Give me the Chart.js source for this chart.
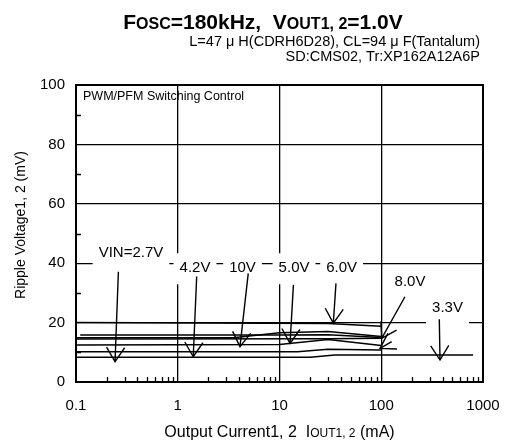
<!DOCTYPE html>
<html><head><meta charset="utf-8">
<script src="https://cdn.jsdelivr.net/npm/chart.js@4"></script>
<style>html,body{margin:0;padding:0;background:#fff}#wrap{width:507px;height:445px;position:relative}</style>
</head><body><div id="wrap"><canvas id="c"></canvas></div>
<script>
// ---- data (output current mA, ripple mV) ----
const xTickValues = [0.1, 1, 10, 100, 1000];
const yTickValues = [0, 20, 40, 60, 80, 100];
const minorXTicks = [0.2,0.3,0.4,0.5,0.6,0.7,0.8,0.9,2,3,4,5,6,7,8,9,20,30,40,50,60,70,80,90,200,300,400,500,600,700,800,900];
const minorYTicks = [10, 30, 50, 70, 90];

const seriesNames = ['VIN=2.7V', '3.3V', '4.2V', '5.0V', '6.0V', '8.0V', '10V'];
const v27X = [0.1, 15, 30, 100];        const v27Y = [10.2, 10.2, 11.0, 10.8];
const v33X = [0.1, 20, 35, 800];        const v33Y = [8.3, 8.3, 9.1, 9.1];
const v42X = [0.11, 10, 30, 100];       const v42Y = [15.8, 15.8, 15.9, 15.0];
const v50X = [0.1, 10, 30, 100];        const v50Y = [12.5, 12.6, 14.3, 12.3];
const v60X = [0.1, 30, 100];            const v60Y = [20.0, 19.7, 18.8];
const v80X = [0.1, 30, 100];            const v80Y = [14.5, 14.6, 14.7];
const v10X = [0.1, 3.5, 10, 30, 100];   const v10Y = [14.9, 14.9, 16.6, 17.0, 15.3];
const seriesX = [v27X, v33X, v42X, v50X, v60X, v80X, v10X];
const seriesY = [v27Y, v33Y, v42Y, v50Y, v60Y, v80Y, v10Y];

// annotation labels with arrows (data units)
const noteText  = ['VIN=2.7V', '4.2V', '10V', '5.0V', '6.0V', '8.0V', '3.3V'];
const noteX     = [0.347, 1.477, 4.33, 13.9, 40.8, 191.7, 447.6];
const noteY     = [43.4, 38.3, 38.3, 38.3, 38.3, 33.8, 24.8];
const arrowFromX= [0.261, 1.535, 4.93, 13.7, 35.9, 171, 372, 126.7];
const arrowFromY= [37.1, 35.5, 36.6, 32.7, 33.2, 28.7, 21.1, 13.6];
const arrowToX  = [0.242, 1.42, 4.09, 12.7, 33.8, 101, 378, 97.3];
const arrowToY  = [6.8, 8.5, 11.9, 13.0, 19.8, 14.7, 7.4, 11.3];

const FF = '"Liberation Sans", Arial, sans-serif';

function drawRich(ctx, pieces, cx, by) {
  let w = 0;
  pieces.forEach(p => { ctx.font = p.f + ' ' + FF; w += ctx.measureText(p.t).width; });
  let x = cx - w / 2;
  ctx.textAlign = 'left'; ctx.textBaseline = 'alphabetic';
  pieces.forEach(p => { ctx.font = p.f + ' ' + FF; ctx.fillText(p.t, x, by); x += ctx.measureText(p.t).width; });
}

const notes = {
  id: 'notes',
  beforeDatasetsDraw(chart) {
    const ctx = chart.ctx, xs = chart.scales.x, ys = chart.scales.y;
    ctx.save();
    ctx.font = '15px ' + FF;
    ctx.fillStyle = '#fff';
    noteText.forEach((t, i) => {
      const w = ctx.measureText(t).width;
      const cx = xs.getPixelForValue(noteX[i]), cy = ys.getPixelForValue(noteY[i]);
      ctx.fillRect(cx - w / 2 - 6, cy - 15, w + 12, 31);
    });
    ctx.restore();
  },
  afterDatasetsDraw(chart) {
    const ctx = chart.ctx, xs = chart.scales.x, ys = chart.scales.y, a = chart.chartArea;
    ctx.save();
    ctx.strokeStyle = '#000'; ctx.fillStyle = '#000';
    // minor ticks
    ctx.lineWidth = 1.3;
    ctx.beginPath();
    minorXTicks.forEach(v => { const px = Math.round(xs.getPixelForValue(v)) + 0.5; ctx.moveTo(px, a.bottom); ctx.lineTo(px, a.bottom - 5); });
    minorYTicks.forEach(v => { const py = Math.round(ys.getPixelForValue(v)) + 0.5; ctx.moveTo(a.left, py); ctx.lineTo(a.left + 5, py); });
    ctx.stroke();
    // frame
    ctx.lineWidth = 2;
    ctx.strokeRect(a.left, a.top, a.right - a.left, a.bottom - a.top);
    // arrows
    ctx.lineWidth = 1.4;
    arrowFromX.forEach((fx, i) => {
      const x1 = xs.getPixelForValue(fx), y1 = ys.getPixelForValue(arrowFromY[i]);
      const x2 = xs.getPixelForValue(arrowToX[i]), y2 = ys.getPixelForValue(arrowToY[i]);
      const ang = Math.atan2(y2 - y1, x2 - x1), L = 17, th = 0.56;
      ctx.beginPath();
      ctx.moveTo(x1, y1); ctx.lineTo(x2, y2);
      ctx.moveTo(x2 - L * Math.cos(ang - th), y2 - L * Math.sin(ang - th));
      ctx.lineTo(x2, y2);
      ctx.lineTo(x2 - L * Math.cos(ang + th), y2 - L * Math.sin(ang + th));
      ctx.stroke();
    });
    // note texts
    ctx.font = '15px ' + FF; ctx.textAlign = 'center'; ctx.textBaseline = 'middle';
    noteText.forEach((t, i) => ctx.fillText(t, xs.getPixelForValue(noteX[i]), ys.getPixelForValue(noteY[i])));
    // inner caption
    ctx.font = '12.5px ' + FF; ctx.textAlign = 'left';
    ctx.fillText('PWM/PFM Switching Control', a.left + 7, a.top + 12);
    ctx.restore();
  },
  afterDraw(chart) {
    const ctx = chart.ctx, a = chart.chartArea;
    ctx.save(); ctx.fillStyle = '#000';
    drawRich(ctx, [
      {t: 'F', f: 'bold 21px'}, {t: 'OSC', f: 'bold 16px'}, {t: '=180kHz,  V', f: 'bold 21px'},
      {t: 'OUT1, 2', f: 'bold 16px'}, {t: '=1.0V', f: 'bold 21px'}], 263, 29);
    ctx.font = '14.5px ' + FF; ctx.textAlign = 'right'; ctx.textBaseline = 'middle';
    ctx.fillText('L=47 μ H(CDRH6D28), CL=94 μ F(Tantalum)', 480, 42);
    ctx.fillText('SD:CMS02, Tr:XP162A12A6P', 480, 57);
    drawRich(ctx, [
      {t: 'Output Current1, 2  ', f: '16px'}, {t: 'I', f: '16px'}, {t: 'OUT1, 2', f: '12px'}, {t: ' (mA)', f: '16px'}],
      (a.left + a.right) / 2, 437);
    ctx.translate(21, 225); ctx.rotate(-Math.PI / 2);
    ctx.font = '14px ' + FF; ctx.textAlign = 'center'; ctx.textBaseline = 'middle';
    ctx.fillText('Ripple Voltage1, 2 (mV)', 0, 0);
    ctx.restore();
  }
};

const datasets = seriesNames.map((n, i) => ({
  label: n,
  data: seriesX[i].map((x, j) => ({x: x, y: seriesY[i][j]})),
  borderColor: '#000', borderWidth: 1.5, pointRadius: 0, showLine: true, tension: 0, fill: false
}));

new Chart(document.getElementById('c'), {
  type: 'scatter',
  data: {datasets},
  options: {
    responsive: true, maintainAspectRatio: false, animation: false,
    layout: {padding: {left: 0, top: 85, right: 24, bottom: 0}},
    plugins: {legend: {display: false}, tooltip: {enabled: false}, title: {display: false}},
    scales: {
      x: {
        type: 'logarithmic', min: 0.1, max: 1000,
        afterBuildTicks: s => { s.ticks = xTickValues.map(v => ({value: v})); },
        afterFit: s => { s.height = 63; s.paddingLeft = 0; s.paddingRight = 0; },
        ticks: {autoSkip: false, maxRotation: 0, padding: 15, color: '#000', font: {family: FF, size: 15},
          callback: v => String(v)},
        grid: {color: '#000', lineWidth: 1.3, drawTicks: false},
        border: {display: false}
      },
      y: {
        min: 0, max: 100,
        afterBuildTicks: s => { s.ticks = yTickValues.map(v => ({value: v})); },
        afterFit: s => { s.width = 76; s.paddingTop = 0; s.paddingBottom = 0; },
        ticks: {padding: 11, color: '#000', font: {family: FF, size: 15}},
        grid: {color: '#000', lineWidth: 1.3, drawTicks: false},
        border: {display: false}
      }
    }
  },
  plugins: [notes]
});
</script></body></html>
